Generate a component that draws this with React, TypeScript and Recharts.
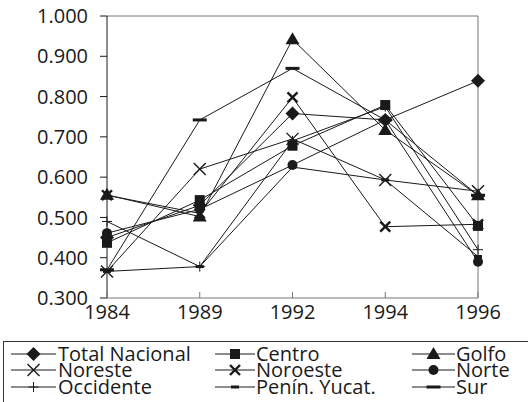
import React from 'react';
import { LineChart, Line, XAxis, YAxis, ReferenceLine, Customized } from 'recharts';

const years = ['1984', '1989', '1992', '1994', '1996'];
const seriesNames = ['Total Nacional', 'Centro', 'Golfo', 'Noreste', 'Noroeste', 'Norte', 'Occidente', 'Penín. Yucat.', 'Sur'];
const totalNacional = [0.45, 0.53, 0.758, 0.742, 0.839];
const centro = [0.437, 0.543, 0.678, 0.779, 0.479];
const golfo = [0.556, 0.502, 0.942, 0.717, 0.555];
const noreste = [0.366, 0.62, 0.695, 0.593, 0.565];
const noroeste = [0.555, 0.51, 0.798, 0.477, 0.483];
const norte = [0.461, 0.52, 0.63, 0.742, 0.39];
const occidente = [0.49, 0.378, 0.69, 0.775, 0.42];
const peninYucat = [0.366, 0.378, 0.625, 0.593, 0.403];
const sur = [0.37, 0.742, 0.87, 0.742, 0.555];
const yTicks = [0.3, 0.4, 0.5, 0.6, 0.7, 0.8, 0.9, 1.0];

const seriesValues = [totalNacional, centro, golfo, noreste, noroeste, norte, occidente, peninYucat, sur];
const shapes = ['diamond', 'square', 'triangle', 'x', 'xbold', 'circle', 'plus', 'dash', 'bigdash'];
// drawing order (bottom to top), by index into seriesNames
const drawOrder = [6, 7, 8, 4, 5, 3, 1, 0, 2];

const data = years.map((y, i) => {
  const row: any = { year: y };
  seriesValues.forEach((vals, k) => {
    row['s' + k] = vals[i];
  });
  return row;
});

const FONT = '"Open Sans", sans-serif';
const INK = '#1a1a1a';

function Marker({ shape, cx, cy }: { shape: string; cx: number; cy: number }) {
  switch (shape) {
    case 'diamond':
      return <polygon points={`${cx},${cy - 7} ${cx + 7},${cy} ${cx},${cy + 7} ${cx - 7},${cy}`} fill={INK} />;
    case 'square':
      return <rect x={cx - 5} y={cy - 5} width={10} height={10} fill={INK} />;
    case 'triangle':
      return <polygon points={`${cx},${cy - 7} ${cx + 7},${cy + 5} ${cx - 7},${cy + 5}`} fill={INK} />;
    case 'x':
      return (
        <g stroke={INK} strokeWidth={1.4}>
          <line x1={cx - 6} y1={cy - 6} x2={cx + 6} y2={cy + 6} />
          <line x1={cx - 6} y1={cy + 6} x2={cx + 6} y2={cy - 6} />
        </g>
      );
    case 'xbold':
      return (
        <g stroke={INK} strokeWidth={2.4}>
          <line x1={cx - 5} y1={cy - 5} x2={cx + 5} y2={cy + 5} />
          <line x1={cx - 5} y1={cy + 5} x2={cx + 5} y2={cy - 5} />
        </g>
      );
    case 'circle':
      return <circle cx={cx} cy={cy} r={5} fill={INK} />;
    case 'plus':
      return (
        <g stroke={INK} strokeWidth={1}>
          <line x1={cx} y1={cy - 5} x2={cx} y2={cy + 5} />
          <line x1={cx - 5} y1={cy} x2={cx + 5} y2={cy} />
        </g>
      );
    case 'dash':
      return <rect x={cx - 4} y={cy - 1.5} width={8} height={3} fill={INK} />;
    case 'bigdash':
      return <rect x={cx - 7} y={cy - 1.5} width={14} height={3} fill={INK} />;
    default:
      return null;
  }
}

const makeDot = (shape: string) => (props: any) => {
  const { cx, cy, index } = props;
  if (cx == null || cy == null) return <g key={`d-${shape}-${index}`} />;
  return (
    <g key={`d-${shape}-${index}`}>
      <Marker shape={shape} cx={cx} cy={cy} />
    </g>
  );
};

const XTick = (props: any) => {
  const { x, y, payload } = props;
  return (
    <g>
      <line x1={x} y1={y} x2={x} y2={y - 6} stroke="#777" strokeWidth={1} />
      <text x={x} y={y + 21} textAnchor="middle" fontFamily={FONT} fontSize={20} fill={INK}>
        {payload.value}
      </text>
    </g>
  );
};

const LegendBox = () => {
  const cols = [
    { lx1: 11, lx2: 56, tx: 58 },
    { lx1: 215, lx2: 255, tx: 256 },
    { lx1: 412, lx2: 455, tx: 456 },
  ];
  const rows = [354, 370, 387];
  return (
    <g>
      <rect x={3.5} y={341.5} width={600} height={100} fill="none" stroke="#333" strokeWidth={1} />
      {seriesNames.map((name, i) => {
        const c = cols[i % 3];
        const r = rows[Math.floor(i / 3)];
        const mx = (c.lx1 + c.lx2) / 2;
        return (
          <g key={name}>
            <line x1={c.lx1} y1={r} x2={c.lx2} y2={r} stroke={INK} strokeWidth={1} />
            <Marker shape={shapes[i]} cx={mx} cy={r} />
            <text x={c.tx} y={r + 6.5} fontFamily={FONT} fontSize={20} fill={INK}>
              {name}
            </text>
          </g>
        );
      })}
    </g>
  );
};

export default function App() {
  return (
    <div style={{ position: 'absolute', left: 0, top: 0, width: 528, height: 402, background: '#fff', overflow: 'hidden' }}>
      <LineChart width={528} height={402} data={data} margin={{ top: 16, right: 50, left: 0, bottom: 74 }}>
        <XAxis
          dataKey="year"
          height={30}
          axisLine={{ stroke: '#777' }}
          tickLine={false}
          tickSize={0}
          tickMargin={0}
          tick={<XTick />}
          interval={0}
        />
        <YAxis
          width={107}
          domain={[0.3, 1.0]}
          ticks={yTicks}
          interval={0}
          tickFormatter={(v: number) => v.toFixed(3)}
          axisLine={{ stroke: INK }}
          tickLine={{ stroke: INK }}
          tickSize={7}
          tickMargin={12}
          tick={{ fontFamily: FONT, fontSize: 20, fill: INK }}
        />
        <ReferenceLine y={1} stroke="#777" strokeWidth={1} />
        <ReferenceLine x="1996" stroke="#777" strokeWidth={1} />
        {drawOrder.map((k) => (
          <Line
            key={seriesNames[k]}
            type="linear"
            dataKey={'s' + k}
            name={seriesNames[k]}
            stroke={INK}
            strokeWidth={1}
            dot={makeDot(shapes[k])}
            activeDot={false}
            isAnimationActive={false}
          />
        ))}
        <Customized component={LegendBox} />
      </LineChart>
    </div>
  );
}
